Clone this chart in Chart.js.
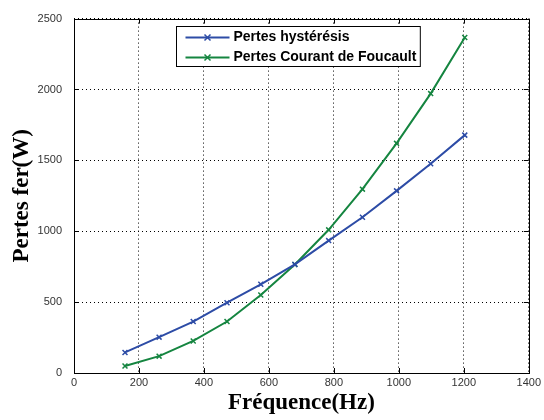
<!DOCTYPE html>
<html>
<head>
<meta charset="utf-8">
<script src="https://cdn.jsdelivr.net/npm/chart.js@4/dist/chart.umd.min.js"></script>
<style>
  body { margin: 0; background: #fff; }
</style>
</head>
<body>
<canvas id="ironChart" width="544" height="420"></canvas>
<script>
// frequences (Hz) et pertes (W)
const freq = [157, 262, 367, 471, 575, 680, 784, 888, 993, 1098, 1203];
const hysteresis = [145, 253, 363, 496, 626, 766, 934, 1099, 1285, 1476, 1678];
const foucault = [49, 119, 226, 363, 550, 766, 1010, 1297, 1620, 1971, 2367];
const xTicks = [0, 200, 400, 600, 800, 1000, 1200, 1400];
const yTicks = [0, 500, 1000, 1500, 2000, 2500];

const blue = '#2d4ca6';
const green = '#158540';

// cadre plein + graduations vers l'interieur (style matlab)
const framePlugin = {
  id: 'frame',
  afterDraw(chart) {
    const { ctx, chartArea: a, scales } = chart;
    ctx.save();
    ctx.strokeStyle = '#000';
    ctx.lineWidth = 1;
    ctx.setLineDash([]);
    ctx.strokeRect(Math.round(a.left) + 0.5, Math.round(a.top) + 0.5,
      Math.round(a.right - a.left), Math.round(a.bottom - a.top));
    ctx.beginPath();
    xTicks.forEach(v => {
      const px = Math.round(scales.x.getPixelForValue(v)) + 0.5;
      ctx.moveTo(px, a.bottom); ctx.lineTo(px, a.bottom - 5);
      ctx.moveTo(px, a.top); ctx.lineTo(px, a.top + 5);
    });
    yTicks.forEach(v => {
      const py = Math.round(scales.y.getPixelForValue(v)) + 0.5;
      ctx.moveTo(a.left, py); ctx.lineTo(a.left + 5, py);
      ctx.moveTo(a.right, py); ctx.lineTo(a.right - 5, py);
    });
    ctx.stroke();
    ctx.restore();
  }
};

// legende encadree dans la zone du graphe
const boxLegend = {
  id: 'boxLegend',
  afterDraw(chart) {
    const { ctx, chartArea: a } = chart;
    const sets = chart.data.datasets;
    ctx.save();
    ctx.font = 'bold 14px "Liberation Sans", Arial, sans-serif';
    const textW = Math.max(...sets.map(d => ctx.measureText(d.label).width));
    const sample = 44, gap = 4, padX = 9, rowH = 20, padY = 0;
    const w = padX + sample + gap + textW + 4;
    const h = padY * 2 + rowH * sets.length;
    const x0 = Math.round((a.left + a.right) / 2 - w / 2) - 2.5;
    const y0 = Math.round(a.top + 7) + 0.5;
    ctx.fillStyle = '#fff';
    ctx.fillRect(x0, y0, w, h);
    ctx.strokeStyle = '#000';
    ctx.lineWidth = 1;
    ctx.strokeRect(x0, y0, w, h);
    sets.forEach((d, i) => {
      const cy = y0 + padY + rowH * i + rowH / 2 + 1;
      const lx = x0 + padX;
      ctx.strokeStyle = d.borderColor;
      ctx.lineWidth = 2;
      ctx.beginPath();
      ctx.moveTo(lx, cy); ctx.lineTo(lx + sample, cy);
      ctx.stroke();
      const mx = lx + sample / 2, r = 3;
      ctx.lineWidth = 1.5;
      ctx.beginPath();
      ctx.moveTo(mx - r, cy - r); ctx.lineTo(mx + r, cy + r);
      ctx.moveTo(mx - r, cy + r); ctx.lineTo(mx + r, cy - r);
      ctx.stroke();
      ctx.fillStyle = '#000';
      ctx.textBaseline = 'middle';
      ctx.fillText(d.label, lx + sample + gap, cy);
    });
    ctx.restore();
  }
};

const tickFont = { family: '"Liberation Sans Narrow", "Liberation Sans", Arial, sans-serif', size: 11 };
const titleFont = { family: '"Liberation Serif", "Times New Roman", serif', size: 23, weight: 'bold', lineHeight: 1.2 };
const plainTick = v => String(v);

new Chart(document.getElementById('ironChart').getContext('2d'), {
  type: 'line',
  data: {
    datasets: [{
      label: 'Pertes hystérésis',
      data: freq.map((f, i) => ({ x: f, y: hysteresis[i] })),
      borderColor: blue,
      backgroundColor: blue,
      borderWidth: 2,
      pointStyle: 'crossRot',
      pointRadius: 3.5,
      pointBorderWidth: 1.5,
      tension: 0
    }, {
      label: 'Pertes Courant de Foucault',
      data: freq.map((f, i) => ({ x: f, y: foucault[i] })),
      borderColor: green,
      backgroundColor: green,
      borderWidth: 2,
      pointStyle: 'crossRot',
      pointRadius: 3.5,
      pointBorderWidth: 1.5,
      tension: 0
    }]
  },
  options: {
    responsive: false,
    animation: false,
    layout: { padding: { top: 15, right: 14, left: 0, bottom: 0 } },
    plugins: {
      legend: { display: false },
      tooltip: { enabled: false }
    },
    scales: {
      x: {
        type: 'linear',
        min: 0,
        max: 1400,
        afterBuildTicks: s => { s.ticks = xTicks.map(v => ({ value: v })); },
        afterFit: s => { s.height = 47; },
        grid: { color: '#000', lineWidth: 1, drawTicks: false },
        border: { display: false, dash: [1, 3] },
        ticks: { color: '#333', font: tickFont, padding: 3, maxRotation: 0, callback: plainTick },
        title: { display: true, text: 'Fréquence(Hz)', color: '#000', font: titleFont, padding: { top: 0, bottom: 3 } }
      },
      y: {
        min: 0,
        max: 2500,
        afterBuildTicks: s => { s.ticks = yTicks.map(v => ({ value: v })); },
        afterFit: s => { s.width = 74; },
        grid: { color: '#000', lineWidth: 1, drawTicks: false },
        border: { display: false, dash: [1, 3] },
        ticks: { color: '#333', font: tickFont, padding: 12, callback: plainTick },
        title: { display: true, text: 'Pertes fer(W)', color: '#000', font: titleFont, padding: { top: 8, bottom: 0 } }
      }
    }
  },
  plugins: [framePlugin, boxLegend]
});
</script>
</body>
</html>
